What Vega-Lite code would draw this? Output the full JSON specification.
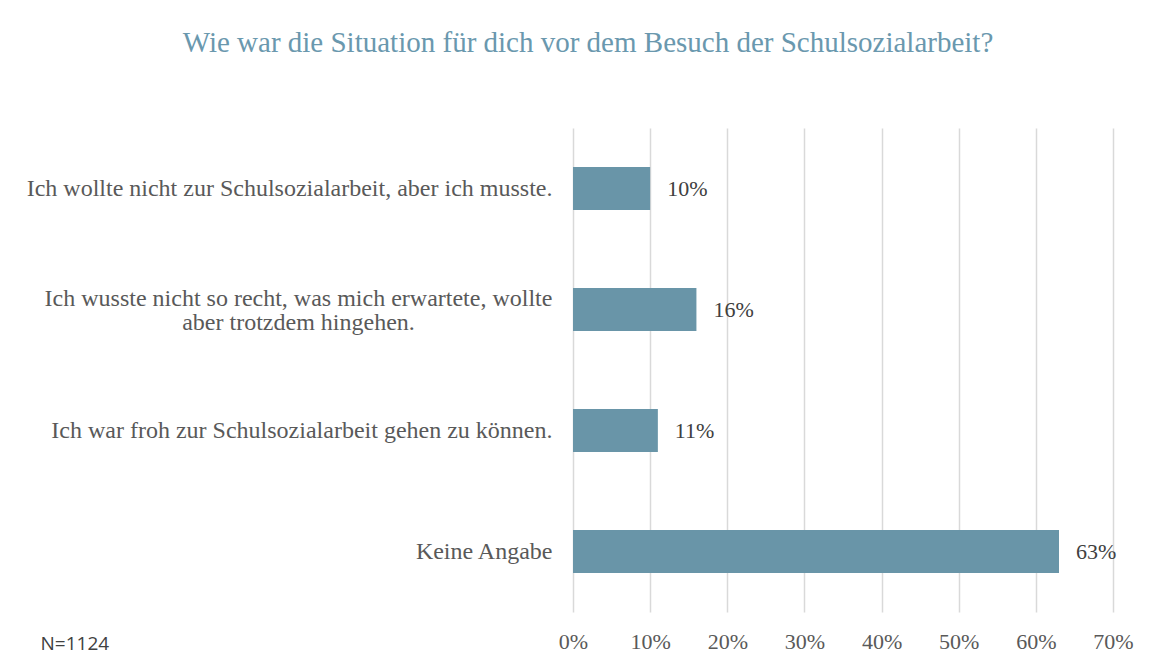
{
  "$schema": "https://vega.github.io/schema/vega-lite/v6.json",
  "width": 540,
  "height": 484,
  "autosize": {"type": "none"},
  "padding": {"left": 573, "top": 128, "right": 44, "bottom": 52},
  "background": "white",
  "config": {"view": {"stroke": null}},
  "title": {
    "text": "Wie war die Situation für dich vor dem Besuch der Schulsozialarbeit?",
    "font": "'Times New Roman', 'Liberation Serif', 'DejaVu Serif', serif",
    "fontSize": 29,
    "fontWeight": "normal",
    "color": "#6a98ae",
    "anchor": "middle",
    "frame": "group",
    "dx": -255,
    "offset": 70
  },
  "data": {
    "values": [
      {"antwort": "Ich wollte nicht zur Schulsozialarbeit, aber ich musste.", "anteil": 0.10},
      {"antwort": "Ich wusste nicht so recht, was mich erwartete, wollte|aber trotzdem hingehen.", "anteil": 0.16},
      {"antwort": "Ich war froh zur Schulsozialarbeit gehen zu können.", "anteil": 0.11},
      {"antwort": "Keine Angabe", "anteil": 0.63}
    ]
  },
  "encoding": {
    "y": {
      "field": "antwort",
      "type": "nominal",
      "sort": null,
      "scale": {"paddingInner": 0.645, "paddingOuter": 0.3225},
      "axis": {
        "title": null,
        "domain": false,
        "ticks": false,
        "grid": false,
        "labelExpr": "split(datum.value, '|')",
        "labelFont": "'Times New Roman', 'Liberation Serif', 'DejaVu Serif', serif",
        "labelFontSize": 24,
        "labelColor": "#595959",
        "labelLimit": 700,
        "labelLineHeight": 24,
        "labelAlign": {"condition": {"test": "indexof(datum.value, '|') >= 0", "value": "center"}, "value": "right"},
        "labelPadding": {"condition": {"test": "indexof(datum.value, '|') >= 0", "value": 275}, "value": 21},
        "labelOffset": {"condition": {"test": "indexof(datum.value, '|') >= 0", "value": -11}, "value": 0}
      }
    },
    "x": {
      "field": "anteil",
      "type": "quantitative",
      "scale": {"domain": [0, 0.7], "nice": false},
      "axis": {
        "values": [0, 0.1, 0.2, 0.3, 0.4, 0.5, 0.6, 0.7],
        "format": ".0%",
        "domain": false,
        "ticks": false,
        "grid": true,
        "gridColor": "#d9d9d9",
        "gridWidth": 1.5,
        "labelFlush": false,
        "labelFont": "'Times New Roman', 'Liberation Serif', 'DejaVu Serif', serif",
        "labelFontSize": 22,
        "labelColor": "#595959",
        "labelBaseline": "alphabetic",
        "labelPadding": 36,
        "title": "N=1124",
        "titleFont": "Open Sans",
        "titleFontSize": 19,
        "titleFontWeight": "normal",
        "titleColor": "#404040",
        "titleAlign": "left",
        "titleBaseline": "alphabetic",
        "titleAngle": 0,
        "titleX": -533,
        "titleY": 37
      }
    }
  },
  "layer": [
    {"mark": {"type": "bar", "color": "#6995a8"}},
    {
      "mark": {"type": "text", "align": "left", "baseline": "middle", "dx": 17, "font": "'Times New Roman', 'Liberation Serif', 'DejaVu Serif', serif", "fontSize": 22, "color": "#404040"},
      "encoding": {"text": {"field": "anteil", "type": "quantitative", "format": ".0%"}}
    }
  ]
}
